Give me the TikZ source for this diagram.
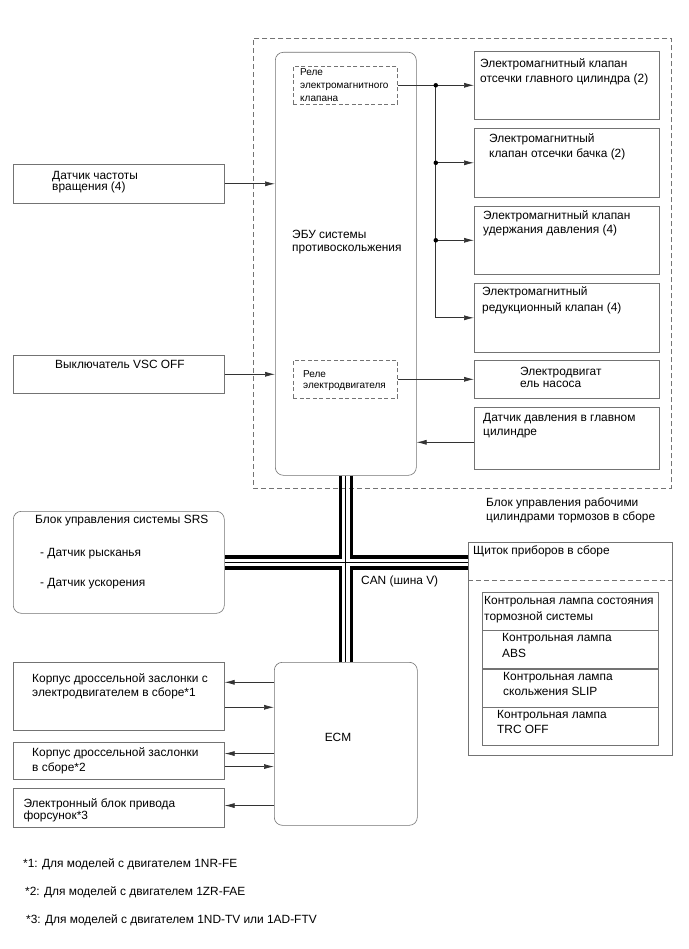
\documentclass[tikz,border=0pt]{standalone}
\usepackage{fontspec}
\setmainfont{Liberation Sans}
\usepackage{xcolor}
\definecolor{boxgrey}{gray}{0.45}
\definecolor{wiregrey}{gray}{0.2}
\usepackage{tikz}
\usetikzlibrary{arrows.meta,positioning,calc}

\begin{document}
\begin{tikzpicture}[
    x=1pt, y=-1pt,
    every node/.style={font=\fontsize{11.9}{14.5}\selectfont},
    lead/.style={font=\fontsize{11.9}{#1}\selectfont},
    box/.style={draw=boxgrey, line width=0.6pt, anchor=north west, inner sep=0pt},
    rbox/.style={box, rounded corners=8pt},
    relay/.style={box, dash pattern=on 4pt off 2.5pt},
    txt/.style={anchor=north west, align=left, inner sep=0pt},
    small/.style={txt, font=\fontsize{10}{#1}\selectfont},
    small/.default=12.5,
    sig/.style={draw=wiregrey, line width=0.7pt, -{Latex[length=10pt,width=5pt]}},
    can/.style={line width=3.5pt},
    canmid/.style={line width=0.9pt},
    dot/.style={circle, fill=black, inner sep=0pt, minimum size=4.5pt}
]
\fill[white] (0,0) rectangle (688,949);
\useasboundingbox (0,0) rectangle (688,949);

% Brake actuator assembly (dashed boundary)
\node[box, dash pattern=on 5pt off 3pt, minimum width=418, minimum height=450] (assy) at (253,38) {};
\node[txt, lead=13.3] (assylbl) at (486,498) {Блок управления рабочими\\цилиндрами тормозов в сборе};

% Skid control ECU with relays
\node[rbox, minimum width=141, minimum height=423] (ecu) at (275,52) {};
\node[txt, lead=13.3] (ecutxt) at (292,229.5) {ЭБУ системы\\противоскольжения};
\node[relay, minimum width=104, minimum height=38] (svrelay) at (293,66) {};
\node[small=13] (svrelaytxt) at (300,68.5) {Реле\\электромагнитного\\клапана};
\node[relay, minimum width=104, minimum height=38] (mrelay) at (293,360) {};
\node[small=11.7] (mrelaytxt) at (303,370) {Реле\\электродвигателя};

% Solenoids, pump motor, sensor
\node[box, minimum width=185, minimum height=68] (smc) at (474,51) {};
\node[txt, lead=15.3] (smctxt) at (480,58) {Электромагнитный клапан\\отсечки главного цилиндра (2)};
\node[box, minimum width=185, minimum height=69] (ssc) at (474,128) {};
\node[txt, lead=15] (ssctxt) at (489,133) {Электромагнитный\\клапан отсечки бачка (2)};
\node[box, minimum width=185, minimum height=68] (sh) at (474,206) {};
\node[txt, lead=14.3] (shtxt) at (483,210.5) {Электромагнитный клапан\\удержания давления (4)};
\node[box, minimum width=185, minimum height=69] (sr) at (474,283) {};
\node[txt, lead=16] (srtxt) at (482,286.5) {Электромагнитный\\редукционный клапан (4)};
\node[box, minimum width=185, minimum height=38] (pump) at (474,360) {};
\node[txt, lead=12.7] (pumptxt) at (520,366.5) {Электродвигат\\ель насоса};
\node[box, minimum width=185, minimum height=62] (mcs) at (474,407) {};
\node[txt, lead=14] (mcstxt) at (483,413.2) {Датчик давления в главном\\цилиндре};

% Inputs on the left
\node[box, minimum width=211, minimum height=39] (spd) at (13,164) {};
\node[txt, lead=11.5] (spdtxt) at (52,171) {Датчик частоты\\вращения (4)};
\node[box, minimum width=211, minimum height=38] (vsc) at (13,355) {};
\node[anchor=west, inner sep=0pt] (vsctxt) at (55,364) {Выключатель VSC OFF};

% SRS unit
\node[rbox, minimum width=211, minimum height=102] (srs) at (13,511) {};
\node[anchor=west, inner sep=0pt] (srstxt) at (35,521) {Блок управления системы SRS};
\node[anchor=west, inner sep=0pt] (yaw) at (40,554) {- Датчик рысканья};
\node[anchor=west, inner sep=0pt] (accel) at (40,584) {- Датчик ускорения};

% Combination meter
\node[box, minimum width=204, minimum height=213] (meter) at (468,542) {};
\node[anchor=west, inner sep=0pt] (metertxt) at (473,551) {Щиток приборов в сборе};
\draw[boxgrey, line width=0.6pt, dash pattern=on 5pt off 3pt] ($(meter.north west)+(0,38)$) -- ($(meter.north east)+(0,38)$);
\node[box, minimum width=176, minimum height=37.5] (lamp1) at (482,592) {};
\node[box, minimum width=176, minimum height=38, below=0pt of lamp1] (lamp2) {};
\node[box, minimum width=176, minimum height=38, below=0pt of lamp2] (lamp3) {};
\node[box, minimum width=176, minimum height=38, below=0pt of lamp3] (lamp4) {};
\node[txt, lead=16] (lamp1txt) at (484,596.5) {Контрольная лампа состояния\\тормозной системы};
\node[txt, lead=16] (lamp2txt) at (502,633) {Контрольная лампа\\ABS};
\node[txt, lead=14.7] (lamp3txt) at (503,672.5) {Контрольная лампа\\скольжения SLIP};
\node[txt, lead=15] (lamp4txt) at (497,709.8) {Контрольная лампа\\TRC OFF};

% ECM and engine side parts
\node[rbox, minimum width=143, minimum height=163] (ecm) at (274,662) {};
\node (ecmtxt) at (338,737) {ECM};
\node[box, minimum width=211, minimum height=68] (thra) at (13,662) {};
\node[txt, lead=14.3] (thratxt) at (32,673.2) {Корпус дроссельной заслонки с\\электродвигателем в сборе*1};
\node[box, minimum width=211, minimum height=36.5] (thrb) at (13,742) {};
\node[txt, lead=15.3] (thrbtxt) at (32,747.2) {Корпус дроссельной заслонки\\в сборе*2};
\node[box, minimum width=211, minimum height=38.5] (inj) at (13,788) {};
\node[txt, lead=12.7] (injtxt) at (23.3,798.2) {Электронный блок привода\\форсунок*3};

% Footnotes
\node[anchor=west, inner sep=0pt] (fn1) at (23,864) {*1: Для моделей с двигателем 1NR-FE};
\node[anchor=west, inner sep=0pt] (fn2) at (25,892.5) {*2: Для моделей с двигателем 1ZR-FAE};
\node[anchor=west, inner sep=0pt] (fn3) at (26,920) {*3: Для моделей с двигателем 1ND-TV или 1AD-FTV};

% Signal lines
\coordinate (split) at ($(svrelay.east)!0.5!(smc.west)$);
\draw[sig] (svrelay.east) -- (smc.west);
\draw[sig] (split |- ssc.west) -- (ssc.west);
\draw[sig] (split |- sh.west) -- (sh.west);
\draw[sig] (split) |- (sr.west);
\node[dot] (dot1) at (split) {};
\node[dot] (dot2) at (split |- ssc.west) {};
\node[dot] (dot3) at (split |- sh.west) {};
\draw[sig] (mrelay.east) -- (pump.west);
\coordinate (mcsout) at ($(mcs.west)+(0,4)$);
\draw[sig] (mcsout) -- (mcsout -| ecu.east);
\draw[sig] (spd.east) -- (spd.east -| ecu.west);
\draw[sig] (vsc.east) -- (vsc.east -| ecu.west);

\coordinate (a1) at ($(thra.east)+(0,-14)$);
\coordinate (a2) at ($(thra.east)+(0,11)$);
\coordinate (b1) at ($(thrb.east)+(0,-7)$);
\coordinate (b2) at ($(thrb.east)+(0,6)$);
\coordinate (c1) at ($(inj.east)+(0,-2)$);
\draw[sig] (a1 -| ecm.west) -- (a1);
\draw[sig] (a2) -- (a2 -| ecm.west);
\draw[sig] (b1 -| ecm.west) -- (b1);
\draw[sig] (b2) -- (b2 -| ecm.west);
\draw[sig] (c1 -| ecm.west) -- (c1);

% CAN bus (V bus)
\coordinate (busE) at (meter.west |- srs.east);
\draw[can] ($(ecu.south)+(-5.5,0)$) |- ($(srs.east)+(0,-5.5)$);
\draw[can] ($(ecu.south)+(5.5,0)$) |- ($(busE)+(0,-5.5)$);
\draw[can] ($(ecm.north)+(-5.5,0)$) |- ($(srs.east)+(0,5.5)$);
\draw[can] ($(ecm.north)+(5.5,0)$) |- ($(busE)+(0,5.5)$);
\draw[canmid] (ecu.south) -- (ecm.north);
\draw[canmid] (srs.east) -- (busE);
\node[anchor=west, inner sep=0pt] (cantxt) at (361,581) {CAN (шина V)};
\end{tikzpicture}
\end{document}
